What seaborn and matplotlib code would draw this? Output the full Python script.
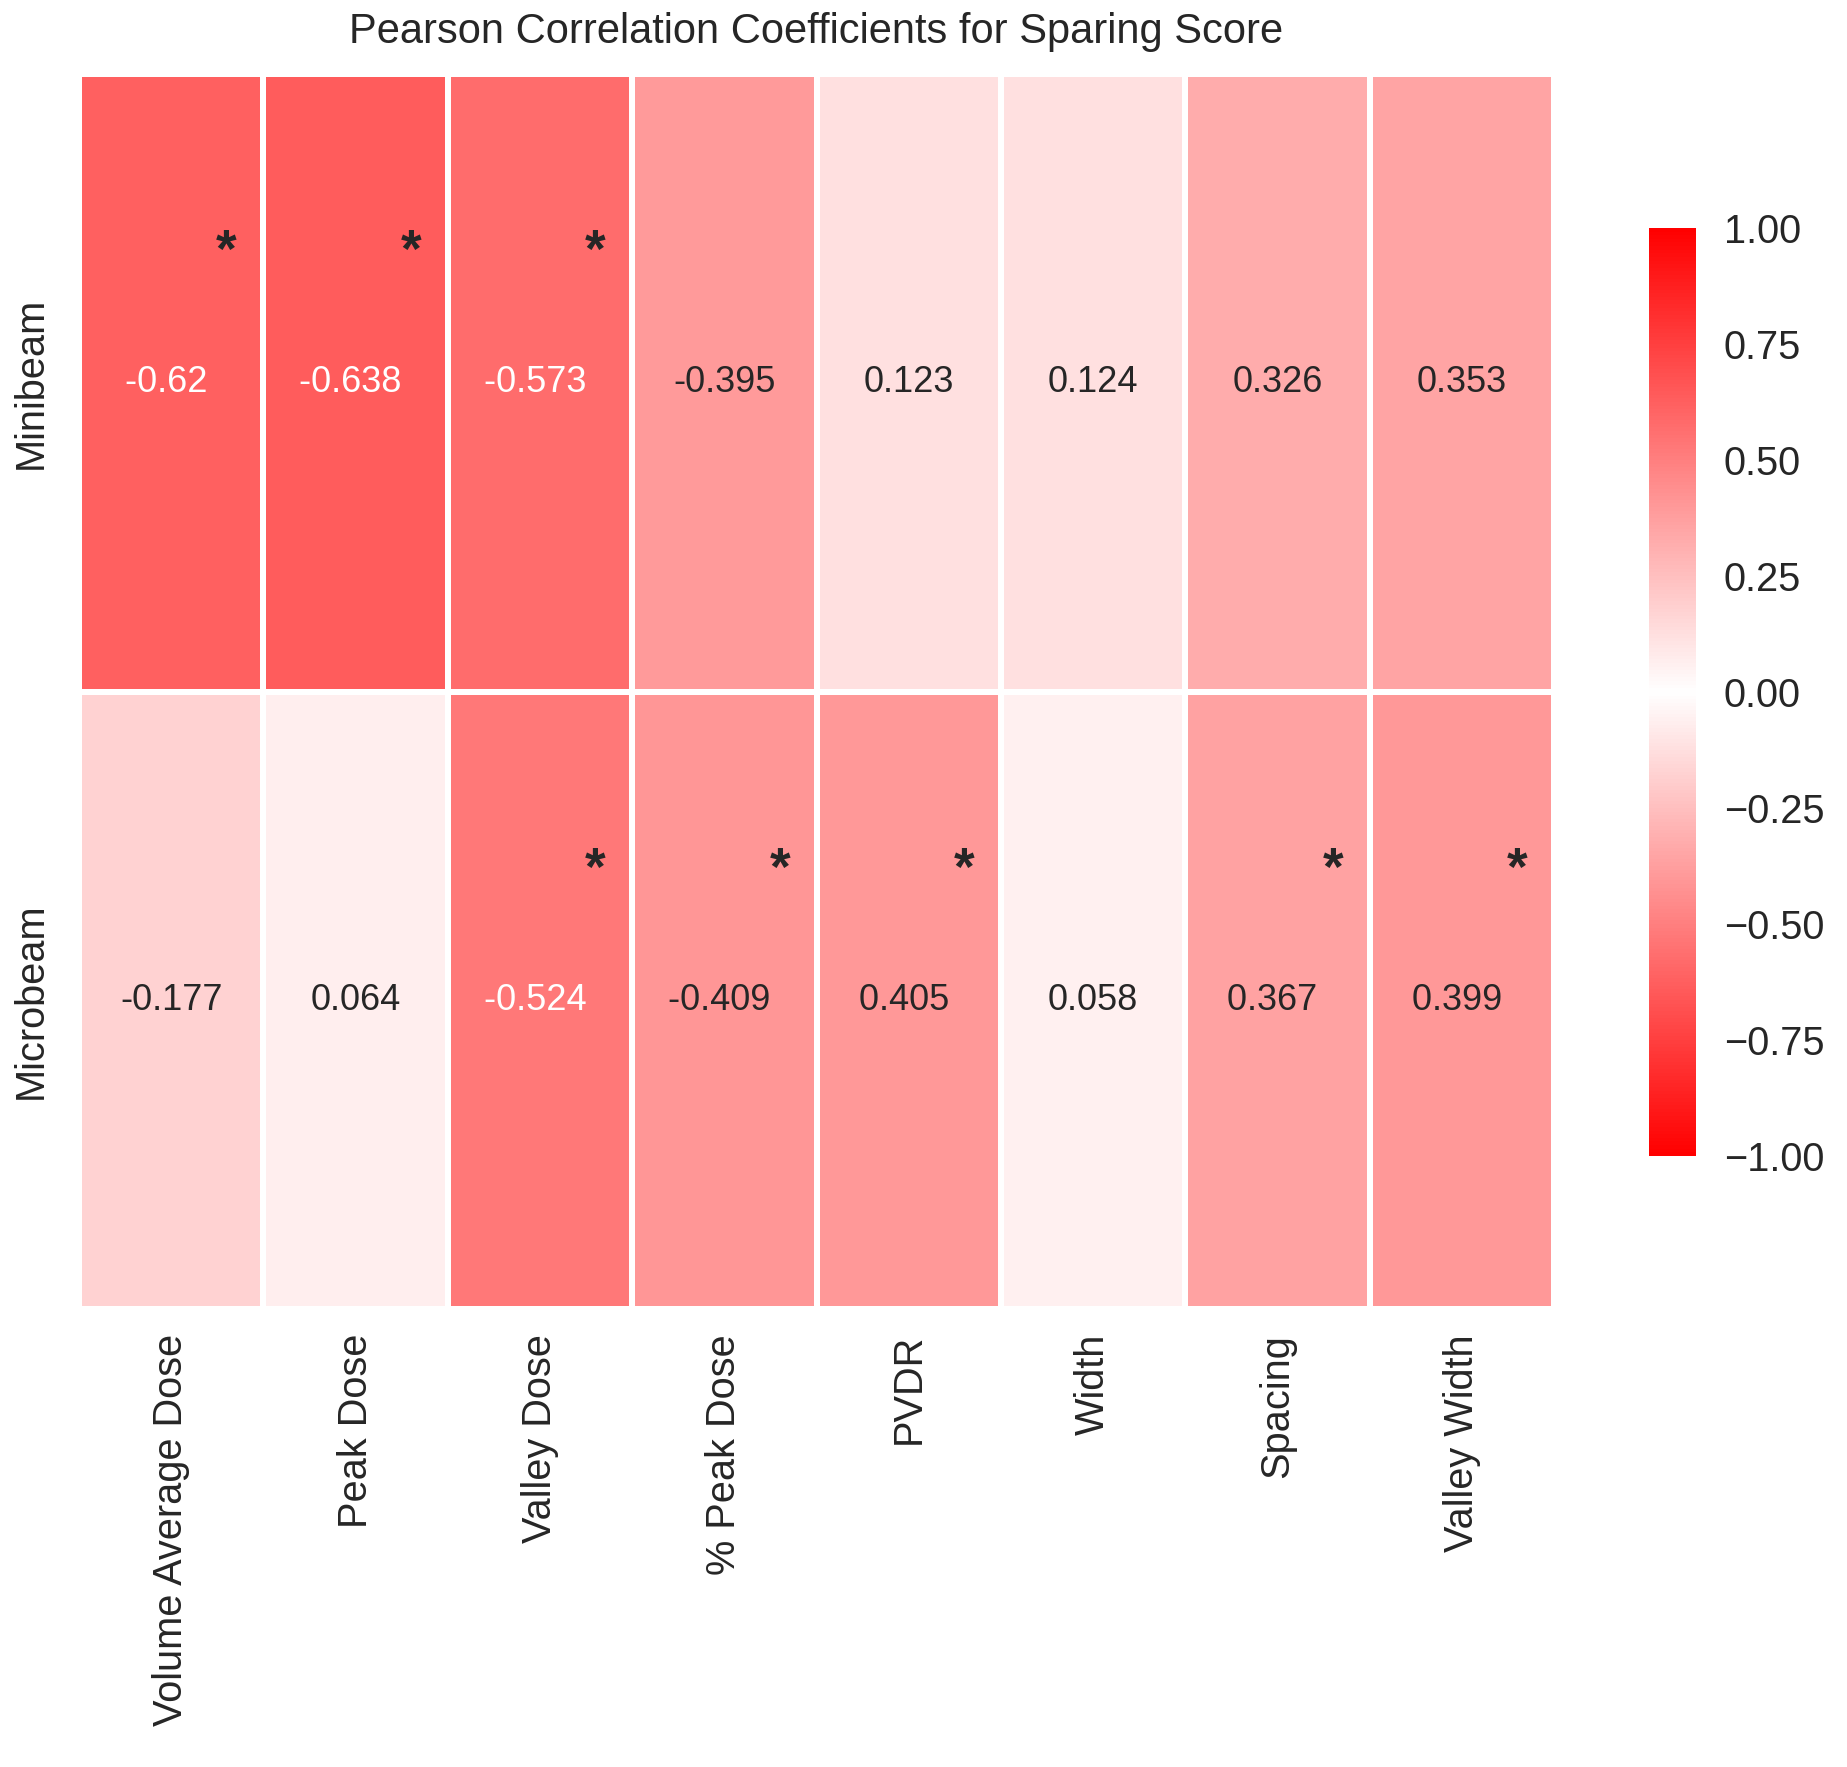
import numpy as np
import pandas as pd
import matplotlib
matplotlib.use('Agg')
import matplotlib.pyplot as plt
from matplotlib.colors import LinearSegmentedColormap
import seaborn as sns


beam_types = ['Minibeam', 'Microbeam']
parameters = ['Volume Average Dose', 'Peak Dose', 'Valley Dose', '% Peak Dose',
              'PVDR', 'Width', 'Spacing', 'Valley Width']

minibeam_r = [-0.62, -0.638, -0.573, -0.395, 0.123, 0.124, 0.326, 0.353]
microbeam_r = [-0.177, 0.064, -0.524, -0.409, 0.405, 0.058, 0.367, 0.399]

# p < 0.05 flags
minibeam_sig = [True, True, True, False, False, False, False, False]
microbeam_sig = [False, False, True, True, True, False, True, True]


corr_df = pd.DataFrame([minibeam_r, microbeam_r], index=beam_types, columns=parameters)
sig_df = pd.DataFrame([minibeam_sig, microbeam_sig], index=beam_types, columns=parameters)

# significant cells get a trailing space in the label
annot_labels = corr_df.astype(str) + np.where(sig_df.values, ' ', '')

sns.set_theme(style='white', font_scale=1.3)
plt.rcParams['font.family'] = ['Liberation Sans', 'DejaVu Sans']

cmap = LinearSegmentedColormap.from_list('red_white_red', ['red', 'white', 'red'])

fig = plt.figure(figsize=(1847 / 200, 1767 / 200), dpi=200)
ax = fig.add_axes([0.0428, 0.2592, 0.7986, 0.6989])
cax = fig.add_axes([0.8928, 0.3458, 0.0254, 0.5252])

sns.heatmap(corr_df, annot=annot_labels, fmt='', cmap=cmap, vmin=-1, vmax=1,
            linewidths=1.5, linecolor='white', ax=ax, cbar_ax=cax,
            annot_kws={'size': 13})

for i in range(len(beam_types)):
    for j in range(len(parameters)):
        if sig_df.iloc[i, j]:
            ax.text(j + 0.8, i + 0.29, '*', ha='center', va='center',
                    fontsize=19, fontweight='bold', color='.15')

ax.set_title('Pearson Correlation Coefficients for Sparing Score', fontsize=15, pad=11)
ax.set_xticklabels(parameters, rotation=90, fontsize=14.3)
ax.set_yticklabels(beam_types, rotation=90, va='center', fontsize=14.3)
ax.tick_params(axis='x', pad=9, length=0)
ax.tick_params(axis='y', pad=10.5, length=0)
cax.tick_params(labelsize=14.3, pad=10, length=0)

plt.savefig('out.png', dpi=200)
